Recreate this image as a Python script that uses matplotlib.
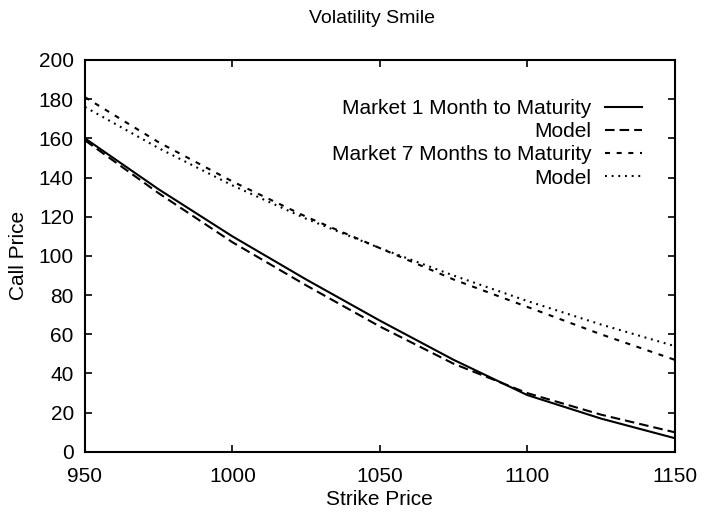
import matplotlib
matplotlib.use("Agg")
import matplotlib.pyplot as plt

plt.rcParams['font.family'] = ['Liberation Sans', 'DejaVu Sans']
plt.rcParams['font.size'] = 15

# strike grid
strikes = [950, 975, 1000, 1025, 1050, 1075, 1100, 1125, 1150]

# 1 month to maturity
market_1m = [160, 134, 110, 88, 67, 47, 29, 17, 7]
model_1m = [159, 132, 107, 85, 64, 45, 30, 19, 10]

# 7 months to maturity
market_7m = [181, 158, 138, 120, 104, 88, 74, 60, 47]
model_7m = [176, 155, 136, 119, 104, 90, 77, 65, 54]

fig = plt.figure(figsize=(7.02, 5.17), dpi=100)
ax = fig.add_axes([0.121, 0.126, 0.84, 0.758])

lw = 1.5
ax.plot(strikes, market_1m, color="black", lw=lw, ls="-",
        label="Market 1 Month to Maturity")
ax.plot(strikes, model_1m, color="black", lw=lw, ls=(0, (4.6, 2.4)),
        label="Model")
ax.plot(strikes, market_7m, color="black", lw=lw, ls=(0, (2.4, 3.2)),
        label="Market 7 Months to Maturity")
ax.plot(strikes, model_7m, color="black", lw=lw, ls=(0, (0.9, 2.3)),
        label="Model")

ax.set_xlim(950, 1150)
ax.set_ylim(0, 200)
ax.set_xticks([950, 1000, 1050, 1100, 1150])
ax.set_yticks(range(0, 201, 20))

# gnuplot-like inward ticks on all four sides
ax.tick_params(direction="in", length=5, width=1.2, top=True, right=True,
               labelsize=15)
ax.tick_params(axis="x", pad=11)
ax.tick_params(axis="y", pad=8)
for s in ax.spines.values():
    s.set_linewidth(1.5)

ax.set_xlabel("Strike Price", fontsize=15, labelpad=3)
ax.set_ylabel("Call Price", fontsize=15, labelpad=8)
fig.text(0.53, 0.965, "Volatility Smile", fontsize=14, ha="center", va="center")

ax.legend(loc="upper right", frameon=False, markerfirst=False,
          handlelength=1.78, handletextpad=0.62, labelspacing=0.2,
          borderpad=0, borderaxespad=0,
          fontsize=15, bbox_to_anchor=(0.944, 0.9))

fig.savefig("out.png", dpi=100)
